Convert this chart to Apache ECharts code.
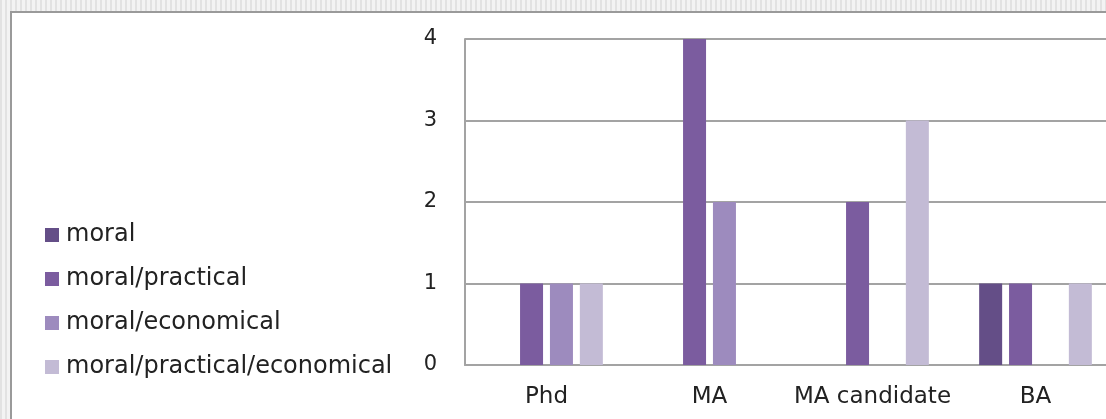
<!DOCTYPE html>
<html>
<head>
<meta charset="utf-8">
<script src="https://cdn.jsdelivr.net/npm/echarts@6/dist/echarts.min.js"></script>
<style>
  html, body { margin: 0; padding: 0; }
  body {
    width: 1106px; height: 419px; overflow: hidden; position: relative;
    background: #ececec;
    background-image: repeating-linear-gradient(90deg, #e2e2e2 0 2px, #f3f3f3 2px 5px);
  }
  #frame {
    position: absolute; left: 10px; top: 11px; right: 0; bottom: 0;
    background: #fff;
    border-left: 2px solid #9a9a9a; border-top: 2px solid #9a9a9a;
  }
  #main { position: absolute; left: 0; top: 0; width: 1106px; height: 419px; }
</style>
</head>
<body>
<div id="frame"></div>
<div id="main"></div>
<script>
  // categories and counts
  var categories = ['Phd', 'MA', 'MA candidate', 'BA'];
  var moral = [0, 0, 0, 1];
  var moralPractical = [1, 4, 2, 1];
  var moralEconomical = [1, 2, 0, 0];
  var moralPracticalEconomical = [1, 0, 3, 1];
  var yTicks = [0, 1, 2, 3, 4];

  var myChart = echarts.init(document.getElementById('main'));

  var gray = '#a3a3a3';
  var font = '"DejaVu Sans", sans-serif';

  function bar(name, data, color) {
    return {
      name: name,
      type: 'bar',
      data: data,
      barWidth: 23,
      barGap: '30%',
      itemStyle: { color: color },
      emphasis: { disabled: true }
    };
  }

  var option = {
    animation: false,
    backgroundColor: 'transparent',
    legend: {
      orient: 'vertical',
      left: 40,
      top: 218,
      itemWidth: 14,
      itemHeight: 14,
      itemGap: 20,
      icon: 'rect',
      textStyle: {
        fontFamily: font,
        fontSize: 24,
        lineHeight: 24,
        color: '#222',
        padding: [0, 0, 0, 2]
      },
      data: ['moral', 'moral/practical', 'moral/economical', 'moral/practical/economical']
    },
    // the plot runs past the right edge of the picture, as in the original
    grid: { left: 465, width: 652, top: 39, bottom: 54, outerBoundsMode: 'none' },
    xAxis: {
      type: 'category',
      data: categories,
      axisLine: { lineStyle: { color: gray, width: 2 } },
      axisTick: { show: false },
      axisLabel: { interval: 0, fontFamily: font, fontSize: 23, color: '#222', margin: 21 }
    },
    yAxis: {
      type: 'value',
      min: yTicks[0],
      max: yTicks[yTicks.length - 1],
      interval: 1,
      axisLine: { show: true, lineStyle: { color: gray, width: 2 } },
      axisTick: { show: false },
      splitLine: { lineStyle: { color: gray, width: 2 } },
      axisLabel: { fontFamily: font, fontSize: 21, color: '#222', margin: 28 }
    },
    series: [
      bar('moral', moral, '#644e87'),
      bar('moral/practical', moralPractical, '#7b5c9f'),
      bar('moral/economical', moralEconomical, '#9d8bbe'),
      bar('moral/practical/economical', moralPracticalEconomical, '#c3bbd5')
    ]
  };

  myChart.setOption(option);
</script>
</body>
</html>
